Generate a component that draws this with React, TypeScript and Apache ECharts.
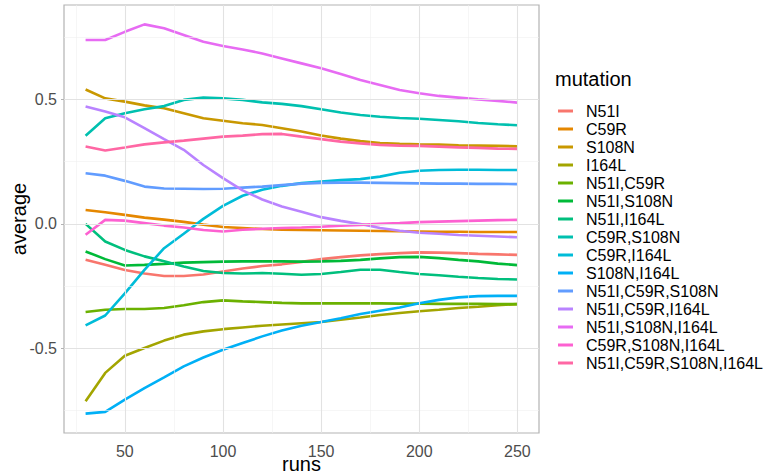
import React, { useEffect, useRef } from "react";
import * as echarts from "echarts";

const runs = [30, 40, 50, 60, 70, 80, 90, 100, 110, 120, 130, 140, 150, 160, 170, 180, 190, 200, 210, 220, 230, 240, 250];

const mutations = [
  "N51I",
  "C59R",
  "S108N",
  "I164L",
  "N51I,C59R",
  "N51I,S108N",
  "N51I,I164L",
  "C59R,S108N",
  "C59R,I164L",
  "S108N,I164L",
  "N51I,C59R,S108N",
  "N51I,C59R,I164L",
  "N51I,S108N,I164L",
  "C59R,S108N,I164L",
  "N51I,C59R,S108N,I164L",
];

const colors = [
  "#F8766D", "#E58700", "#C99800", "#A3A500", "#6BB100",
  "#00BA38", "#00BF7D", "#00C0AF", "#00BCD8", "#00B0F6",
  "#619CFF", "#B983FF", "#E76BF3", "#FD61D1", "#FF67A4",
];

const n51i = [-0.145, -0.165, -0.186, -0.2, -0.21, -0.21, -0.204, -0.192, -0.18, -0.17, -0.163, -0.153, -0.142, -0.134, -0.127, -0.122, -0.118, -0.115, -0.116, -0.118, -0.121, -0.123, -0.125];
const c59r = [0.056, 0.047, 0.036, 0.025, 0.017, 0.008, -0.003, -0.013, -0.017, -0.021, -0.024, -0.025, -0.026, -0.027, -0.028, -0.029, -0.03, -0.031, -0.032, -0.032, -0.033, -0.033, -0.033];
const s108n = [0.541, 0.505, 0.492, 0.477, 0.465, 0.445, 0.425, 0.415, 0.405, 0.398, 0.385, 0.372, 0.356, 0.343, 0.333, 0.325, 0.322, 0.32, 0.319, 0.316, 0.315, 0.314, 0.312];
const i164l = [-0.714, -0.6, -0.531, -0.5, -0.47, -0.446, -0.433, -0.424, -0.417, -0.41, -0.405, -0.4, -0.395, -0.386, -0.377, -0.367, -0.359, -0.352, -0.346, -0.339, -0.334, -0.328, -0.323];
const n51iC59r = [-0.355, -0.346, -0.343, -0.343, -0.339, -0.328, -0.315, -0.308, -0.312, -0.315, -0.318, -0.32, -0.32, -0.32, -0.32, -0.32, -0.321, -0.321, -0.322, -0.322, -0.322, -0.323, -0.323];
const n51iS108n = [-0.111, -0.142, -0.168, -0.165, -0.161, -0.156, -0.154, -0.152, -0.151, -0.151, -0.151, -0.152, -0.151, -0.149, -0.145, -0.139, -0.134, -0.133, -0.138, -0.145, -0.151, -0.16, -0.166];
const n51iI164l = [0.0, -0.071, -0.105, -0.131, -0.151, -0.172, -0.19, -0.198, -0.2, -0.198, -0.201, -0.205, -0.202, -0.194, -0.185, -0.185, -0.194, -0.202, -0.207, -0.213, -0.218, -0.222, -0.224];
const c59rS108n = [0.355, 0.425, 0.445, 0.461, 0.474, 0.499, 0.508, 0.505, 0.499, 0.489, 0.483, 0.474, 0.461, 0.448, 0.438, 0.431, 0.426, 0.423, 0.418, 0.413, 0.406, 0.401, 0.397];
const c59rI164l = [-0.409, -0.369, -0.28, -0.185, -0.098, -0.04, 0.02, 0.072, 0.113, 0.137, 0.153, 0.164, 0.17, 0.176, 0.18, 0.19, 0.206, 0.214, 0.217, 0.218, 0.218, 0.217, 0.217];
const s108nI164l = [-0.764, -0.757, -0.708, -0.661, -0.618, -0.574, -0.538, -0.507, -0.48, -0.453, -0.429, -0.41, -0.395, -0.38, -0.363, -0.35, -0.337, -0.32, -0.306, -0.296, -0.291, -0.29, -0.29];
const n51iC59rS108n = [0.204, 0.194, 0.173, 0.15, 0.142, 0.141, 0.14, 0.141, 0.146, 0.15, 0.156, 0.162, 0.165, 0.166, 0.166, 0.165, 0.164, 0.163, 0.162, 0.162, 0.161, 0.161, 0.16];
const n51iC59rI164l = [0.472, 0.452, 0.429, 0.385, 0.341, 0.298, 0.237, 0.184, 0.135, 0.098, 0.07, 0.049, 0.027, 0.012, -0.001, -0.017, -0.028, -0.036, -0.04, -0.045, -0.048, -0.051, -0.054];
const n51iS108nI164l = [0.74, 0.74, 0.773, 0.803, 0.787, 0.76, 0.733, 0.716, 0.702, 0.686, 0.666, 0.646, 0.626, 0.603, 0.579, 0.559, 0.539, 0.526, 0.515, 0.508, 0.501, 0.495, 0.488];
const c59rS108nI164l = [-0.044, 0.016, 0.013, 0.003, -0.007, -0.015, -0.025, -0.031, -0.024, -0.02, -0.017, -0.015, -0.012, -0.007, -0.004, 0.0, 0.003, 0.007, 0.009, 0.011, 0.013, 0.015, 0.016];
const allFour = [0.311, 0.295, 0.307, 0.32, 0.328, 0.335, 0.343, 0.351, 0.355, 0.361, 0.362, 0.351, 0.341, 0.331, 0.324, 0.318, 0.315, 0.314, 0.311, 0.308, 0.306, 0.303, 0.302];

const seriesValues = [
  n51i, c59r, s108n, i164l, n51iC59r, n51iS108n, n51iI164l, c59rS108n,
  c59rI164l, s108nI164l, n51iC59rS108n, n51iC59rI164l, n51iS108nI164l,
  c59rS108nI164l, allFour,
];

const xTicks = [50, 100, 150, 200, 250];
const xMinor = [25, 75, 125, 175, 225];
const yTicks = [-0.5, 0, 0.5];
const yMinor = [-0.75, -0.25, 0.25, 0.75];

const FONT = "'Liberation Sans', Arial, Helvetica, sans-serif";

export default function App() {
  const ref = useRef<HTMLDivElement>(null);

  useEffect(() => {
    if (!ref.current) return;
    const chart = echarts.init(ref.current, null, { renderer: "svg" });

    const majorStyle = { color: "#E2E2E2", width: 1.1, type: "solid" };
    const minorStyle = { color: "#F0F0F0", width: 0.6, type: "solid" };

    const gridLines = [
      ...xMinor.map((v) => ({ xAxis: v, lineStyle: minorStyle })),
      ...yMinor.map((v) => ({ yAxis: v, lineStyle: minorStyle })),
      ...xTicks.map((v) => ({ xAxis: v, lineStyle: majorStyle })),
      ...yTicks.map((v) => ({ yAxis: v, lineStyle: majorStyle })),
    ];

    const dataSeries = mutations.map((name, i) => ({
      name,
      type: "line",
      data: runs.map((r, j) => [r, seriesValues[i][j]]),
      showSymbol: false,
      symbol: "none",
      z: 3,
      lineStyle: { width: 2.6, color: colors[i] },
      itemStyle: { color: colors[i] },
      emphasis: { disabled: true },
    }));

    chart.setOption({
      animation: false,
      textStyle: { fontFamily: FONT },
      title: {
        text: "mutation",
        left: 555,
        top: 69,
        textStyle: { fontSize: 20, fontWeight: "normal", color: "#000", fontFamily: FONT },
        padding: 0,
      },
      legend: {
        data: mutations,
        orient: "vertical",
        left: 558,
        top: 103,
        padding: 0,
        icon: "rect",
        itemWidth: 15,
        itemHeight: 3,
        itemGap: 2,
        selectedMode: false,
        textStyle: { fontSize: 16, color: "#000", fontFamily: FONT, padding: [0, 0, 0, 8] },
      },
      grid: {
        left: 64,
        right: 242,
        top: 5,
        bottom: 42,
        show: true,
        containLabel: false,
        outerBoundsMode: "none",
        borderColor: "#B3B3B3",
        borderWidth: 1.2,
        backgroundColor: "#fff",
      },
      xAxis: {
        type: "value",
        min: 19,
        max: 261,
        splitNumber: 5,
        name: "runs",
        nameLocation: "middle",
        nameGap: 24,
        nameMoveOverlap: false,
        nameTextStyle: { fontSize: 20, lineHeight: 14, color: "#000", fontFamily: FONT },
        axisLine: { show: false },
        axisTick: { show: true, length: 3, customValues: xTicks, lineStyle: { color: "#B3B3B3", width: 1 } },
        axisLabel: {
          customValues: xTicks,
          showMinLabel: true,
          showMaxLabel: true,
          hideOverlap: false,
          fontSize: 16,
          lineHeight: 14,
          color: "#4D4D4D",
          margin: 11,
          fontFamily: FONT,
        },
        splitLine: { show: false },
      },
      yAxis: {
        type: "value",
        min: -0.842,
        max: 0.881,
        splitNumber: 3,
        name: "average",
        nameLocation: "middle",
        nameGap: 35,
        nameMoveOverlap: false,
        nameTextStyle: { fontSize: 20, color: "#000", fontFamily: FONT },
        axisLine: { show: false },
        axisTick: { show: true, length: 3, customValues: yTicks, lineStyle: { color: "#B3B3B3", width: 1 } },
        axisLabel: {
          customValues: yTicks,
          showMinLabel: true,
          showMaxLabel: true,
          hideOverlap: false,
          fontSize: 16,
          color: "#4D4D4D",
          margin: 7,
          fontFamily: FONT,
          formatter: (v: number) => v.toFixed(1),
        },
        splitLine: { show: false },
      },
      series: [
        {
          name: "__grid",
          type: "line",
          data: [],
          silent: true,
          z: 1,
          markLine: {
            silent: true,
            symbol: "none",
            label: { show: false },
            emphasis: { disabled: true },
            data: gridLines,
          },
        },
        ...dataSeries,
      ],
    });

    return () => chart.dispose();
  }, []);

  return (
    <div
      ref={ref}
      style={{ position: "fixed", left: 0, top: 0, width: 781, height: 475, background: "#fff" }}
    />
  );
}
